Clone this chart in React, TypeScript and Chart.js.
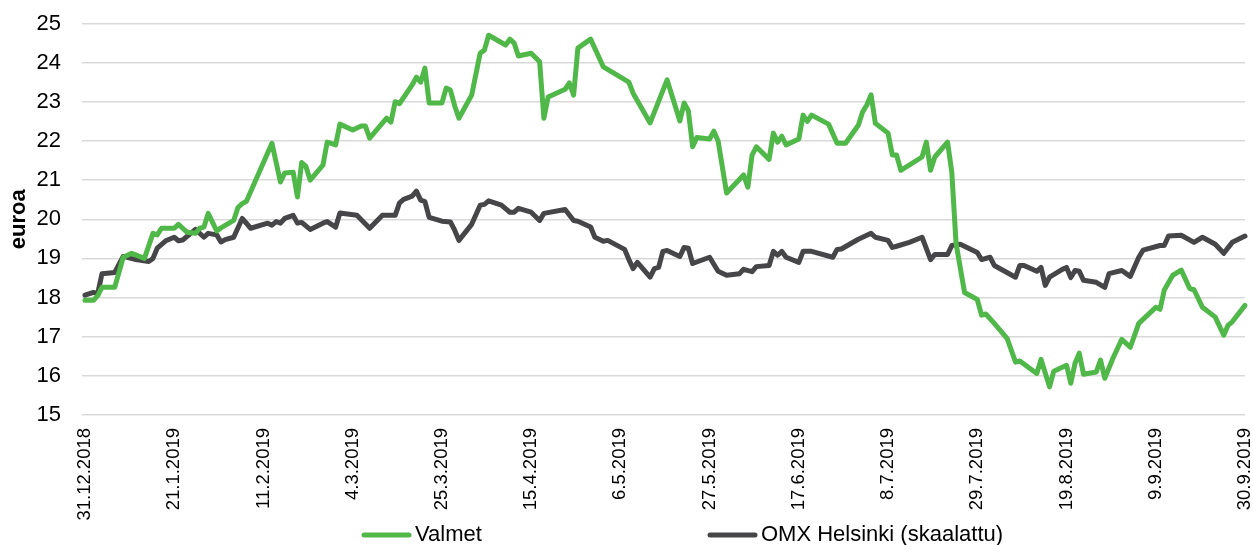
import React, { useEffect, useRef } from "react";
import { Chart, registerables } from "chart.js";

Chart.register(...registerables);

// Day offsets from 31.12.2018
const tickLabels = [
  "31.12.2018", "21.1.2019", "11.2.2019", "4.3.2019", "25.3.2019", "15.4.2019", "6.5.2019",
  "27.5.2019", "17.6.2019", "8.7.2019", "29.7.2019", "19.8.2019", "9.9.2019", "30.9.2019",
];
const tickStepDays = 21;

const valmetDays = [
  0, 2, 3, 4, 7, 9, 11, 14, 16, 17, 18, 21, 22, 23, 24, 26, 27, 28, 29, 31, 32, 35, 36, 37, 38,
  44, 46, 47, 49, 50, 51, 52, 53, 56, 57, 59, 60, 63, 65, 66, 67, 71, 72, 73, 74, 77, 78, 79, 80,
  81, 84, 85, 86, 87, 88, 91, 93, 94, 95, 99, 100, 101, 102, 105, 107, 108, 109, 113, 114, 115,
  116, 119, 122, 128, 129, 133, 137, 140, 141, 142, 143, 144, 147, 148, 149, 151, 155, 156, 157,
  158, 161, 162, 163, 164, 165, 168, 169, 170, 171, 175, 177, 179, 182, 183, 184, 185, 186, 189,
  190, 191, 192, 197, 198, 199, 200, 203, 204, 205, 207, 210, 211, 212, 214, 217, 219, 220, 224,
  225, 227, 228, 231, 232, 233, 234, 235, 238, 239, 240, 242, 244, 246, 248, 252, 253, 254, 256,
  258, 260, 261, 263, 266, 268, 269, 270, 273,
];
const valmetValues = [
  17.93, 17.93, 18.05, 18.26, 18.26, 19.03, 19.13, 19.0, 19.64, 19.6, 19.77, 19.77, 19.87, 19.77,
  19.67, 19.64, 19.77, 19.8, 20.15, 19.7, 19.78, 19.97, 20.3, 20.4, 20.46,
  21.94, 20.95, 21.18, 21.2, 20.57, 21.45, 21.35, 21.0, 21.38, 21.97, 21.9, 22.43, 22.28, 22.38,
  22.38, 22.07, 22.58, 22.48, 23.0, 22.95, 23.43, 23.63, 23.5, 23.86,
  22.97, 22.97, 23.35, 23.3, 22.9, 22.58, 23.17, 24.24, 24.32, 24.7, 24.45, 24.6, 24.5, 24.17,
  24.24, 24.02, 22.58, 23.12, 23.32, 23.48, 23.17,
  24.37, 24.6, 23.89, 23.5, 23.22, 22.46, 23.56, 22.51, 22.97, 22.77, 21.85, 22.09, 22.05, 22.25,
  22.0, 20.67, 21.13, 20.82, 21.64,
  21.85, 21.53, 22.2, 21.97, 22.12, 21.9, 22.05, 22.66, 22.5, 22.66, 22.43, 21.94, 21.94, 22.4,
  22.74, 22.92, 23.18, 22.45, 22.2,
  21.64, 21.64, 21.25, 21.59, 21.97, 21.25, 21.59, 21.97, 21.2, 19.38, 18.13, 17.95, 17.55, 17.58,
  17.34, 16.96, 16.35, 16.38, 16.06,
  16.42, 15.72, 16.12, 16.27, 15.81, 16.32, 16.58, 16.04, 16.1, 16.4, 15.94, 16.47, 16.93, 16.73,
  17.34, 17.75, 17.7, 18.19, 18.57,
  18.7, 18.23, 18.2, 17.75, 17.5, 17.04, 17.29, 17.38, 17.8,
];

const omxDays = [
  0, 2, 3, 4, 7, 9, 12, 15, 16, 17, 19, 21, 22, 23, 26, 28, 29, 31, 32, 33, 35, 37, 39, 43, 44,
  45, 46, 47, 49, 50, 51, 53, 56, 57, 59, 60, 64, 67, 70, 73, 74, 75, 77, 78, 79, 80, 81, 84, 86,
  87, 88, 91, 93, 94, 95, 98, 100, 101, 102, 105, 107, 108, 113, 115, 116, 119, 120, 122, 123,
  127, 128, 129, 130, 133, 134, 135, 136, 137, 140, 141, 142, 143, 147, 149, 151, 154, 155, 157,
  158, 161, 162, 163, 164, 165, 168, 169, 171, 176, 177, 178, 182, 185, 186, 189, 190, 191, 194,
  197, 199, 200, 203, 204, 206, 210, 211, 213, 214, 219, 220, 221, 224, 225, 226, 227, 230, 231,
  232, 233, 234, 235, 238, 240, 241, 244, 246, 248, 249, 253, 254, 255, 258, 261, 263, 266, 268,
  270, 273,
];
const omxValues = [
  18.06, 18.13, 18.1, 18.61, 18.64, 19.05, 18.97, 18.92, 19.0, 19.26, 19.45, 19.54, 19.45, 19.47,
  19.74, 19.54, 19.64, 19.6, 19.42, 19.48, 19.54, 20.02, 19.77, 19.9, 19.85,
  19.94, 19.9, 20.02, 20.1, 19.9, 19.92, 19.74, 19.9, 19.94, 19.8, 20.16, 20.1, 19.77, 20.1, 20.1,
  20.41, 20.51, 20.59, 20.72, 20.49, 20.45, 20.05, 19.95, 19.93,
  19.72, 19.46, 19.87, 20.36, 20.38, 20.47, 20.36, 20.18, 20.18, 20.28, 20.18, 19.97, 20.15, 20.25,
  19.97, 19.95, 19.8, 19.54, 19.44, 19.46,
  19.23, 18.97, 18.74, 18.9, 18.52, 18.74, 18.77, 19.18, 19.2, 19.05, 19.28, 19.26, 18.87, 19.03,
  18.67, 18.57, 18.61, 18.72, 18.66,
  18.79, 18.82, 19.18, 19.08, 19.18, 19.03, 18.9, 19.18, 19.18, 19.03, 19.23, 19.24, 19.49, 19.64,
  19.54, 19.46, 19.28, 19.31, 19.41,
  19.54, 18.97, 19.1, 19.1, 19.33, 19.36, 19.15, 18.97, 19.03, 18.82, 18.52, 18.82, 18.82, 18.67,
  18.77, 18.31, 18.52, 18.72, 18.77,
  18.51, 18.69, 18.67, 18.44, 18.39, 18.26, 18.61, 18.69, 18.54, 19.03, 19.21, 19.33, 19.33, 19.57,
  19.59, 19.41, 19.54, 19.36, 19.13,
  19.41, 19.57,
];

const seriesNames = ["Valmet", "OMX Helsinki (skaalattu)"];
const seriesColors = ["#50b848", "#464648"];
const yAxisTitle = "euroa";

const FONT = "'Liberation Sans', Arial, Helvetica, sans-serif";

const customLegend = {
  id: "customLegend",
  afterDraw(chart: any) {
    const ctx = chart.ctx;
    const starts = [362, 708];
    const y = 535;
    ctx.save();
    ctx.font = `22px ${FONT}`;
    ctx.textBaseline = "middle";
    ctx.textAlign = "left";
    chart.data.datasets.forEach((ds: any, i: number) => {
      const x0 = starts[i];
      ctx.strokeStyle = ds.borderColor;
      ctx.lineWidth = 5;
      ctx.lineCap = "round";
      ctx.beginPath();
      ctx.moveTo(x0 + 2, y);
      ctx.lineTo(x0 + 47, y);
      ctx.stroke();
      ctx.fillStyle = "#000000";
      ctx.fillText(ds.label, x0 + 53, y);
    });
    ctx.restore();
  },
};

export default function App() {
  const ref = useRef<HTMLCanvasElement | null>(null);

  useEffect(() => {
    document.body.style.margin = "0";
    const canvas = ref.current;
    if (!canvas) return;
    const toPoints = (xs: number[], ys: number[]) => xs.map((x, i) => ({ x, y: ys[i] }));
    const chart = new Chart(canvas, {
      type: "line",
      data: {
        datasets: [
          {
            label: seriesNames[0],
            data: toPoints(valmetDays, valmetValues),
            borderColor: seriesColors[0],
            backgroundColor: seriesColors[0],
            borderWidth: 5,
            pointRadius: 0,
            tension: 0,
            borderJoinStyle: "round",
            borderCapStyle: "round",
            clip: 8,
          },
          {
            label: seriesNames[1],
            data: toPoints(omxDays, omxValues),
            borderColor: seriesColors[1],
            backgroundColor: seriesColors[1],
            borderWidth: 5,
            pointRadius: 0,
            tension: 0,
            borderJoinStyle: "round",
            borderCapStyle: "round",
            clip: 8,
          },
        ],
      },
      options: {
        responsive: false,
        animation: false,
        layout: { padding: { top: 23.5, bottom: 15, left: 0, right: 0 } },
        plugins: {
          legend: { display: false },
          tooltip: { enabled: false },
        },
        scales: {
          x: {
            type: "linear",
            min: -0.7,
            max: 273,
            afterBuildTicks: (scale: any) => {
              scale.ticks = tickLabels.map((_, i) => ({ value: i * tickStepDays }));
            },
            ticks: {
              autoSkip: false,
              maxRotation: 90,
              minRotation: 90,
              padding: 0,
              color: "#000000",
              font: { family: FONT, size: 18.5, lineHeight: 1 },
              callback: (v: any) => tickLabels[Math.round(Number(v) / tickStepDays)] ?? "",
            },
            grid: {
              display: true,
              drawOnChartArea: false,
              drawTicks: true,
              tickLength: 13,
              tickColor: "rgba(0,0,0,0)",
              color: "rgba(0,0,0,0)",
            },
            border: { display: false },
            afterFit: (scale: any) => {
              scale.height = 115;
              scale.paddingLeft = 0;
              scale.paddingRight = 8;
            },
          },
          y: {
            min: 15,
            max: 25,
            ticks: {
              stepSize: 1,
              padding: 3,
              color: "#000000",
              font: { family: FONT, size: 22 },
            },
            grid: {
              color: "#d9d9d9",
              lineWidth: 1.5,
              drawTicks: true,
              tickLength: 18,
              tickColor: "rgba(0,0,0,0)",
            },
            border: { display: false },
            title: {
              display: true,
              text: yAxisTitle,
              color: "#000000",
              padding: { top: 6, bottom: 4 },
              font: { family: FONT, size: 22, weight: "bold" },
            },
            afterFit: (scale: any) => {
              scale.width = 82;
              scale.paddingTop = 0;
              scale.paddingBottom = 0;
            },
          },
        },
      },
      plugins: [customLegend],
    });
    return () => chart.destroy();
  }, []);

  return (
    <div style={{ position: "fixed", left: 0, top: 0, width: 1253, height: 545, background: "#ffffff" }}>
      <canvas ref={ref} width={1253} height={545} style={{ display: "block" }} />
    </div>
  );
}
